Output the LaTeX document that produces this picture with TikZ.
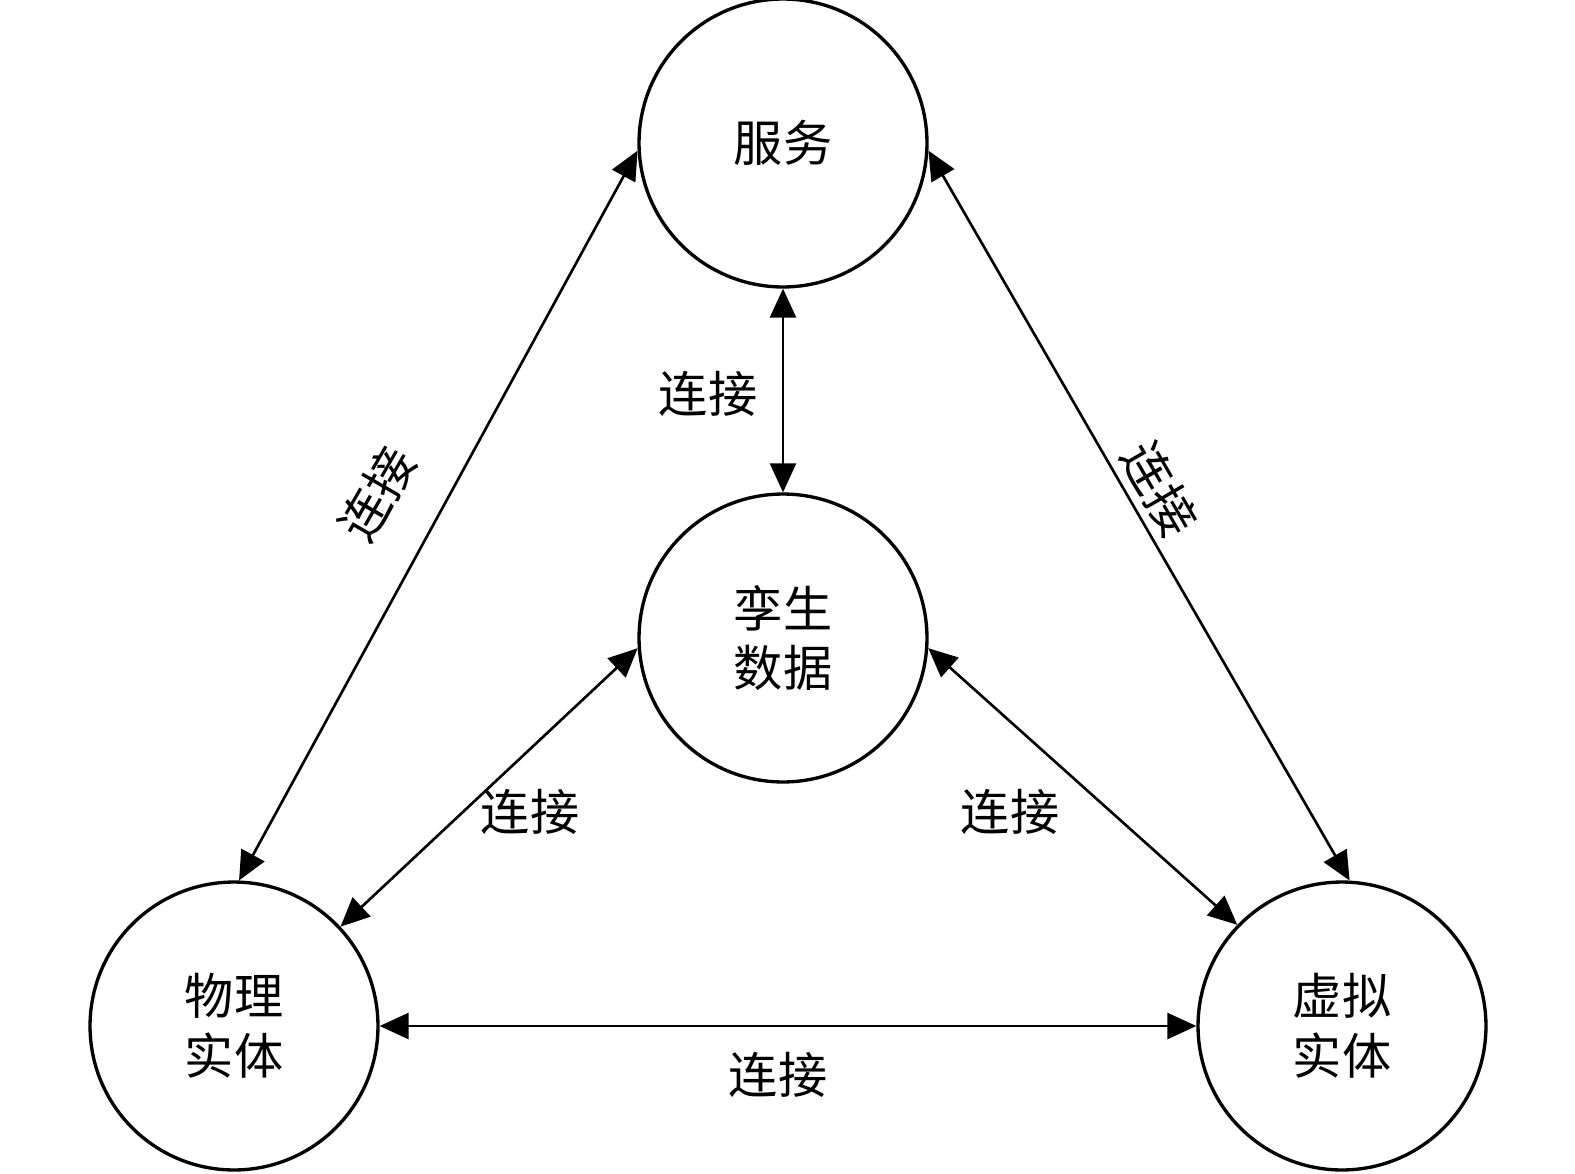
\documentclass[tikz,border=0pt]{standalone}
\usepackage{fontspec}
\usepackage{tikz}
\usetikzlibrary{arrows.meta}
\newfontfamily\cjk{Noto Sans CJK SC}

\begin{document}
\begin{tikzpicture}[x=0.02cm, y=-0.02cm,
    entity/.style={shape=circle, draw=black, line width=1.9pt, minimum size=5.76cm, inner sep=0pt,
        align=center, font=\cjk\fontsize{28}{34}\selectfont},
    link/.style={black, line width=1.5pt, {Triangle[length=0.58cm, width=0.52cm]}-{Triangle[length=0.58cm, width=0.52cm]}},
    tag/.style={font=\cjk\fontsize{28}{34}\selectfont, inner sep=0pt}]
        \useasboundingbox (0, 0) rectangle (1575, 1173);

        \node[entity] (srv) at (783, 143) {服务};
        \node[entity] (twin) at (783, 638) {孪生\\数据};
        \node[entity] (phy) at (234, 1026) {物理\\实体};
        \node[entity] (vir) at (1342, 1026) {虚拟\\实体};

        \draw[link] (srv.183) -- (phy.88);
        \draw[link] (srv.-3) -- (vir.87);
        \draw[link] (srv.south) -- (twin.north);
        \draw[link] (twin.184) -- (phy.43);
        \draw[link] (twin.-4) -- (vir.136);
        \draw[link] (phy.east) -- (vir.west);

        \node[tag] (t1) at (708, 394) {连接};
        \node[tag, rotate=60] (t2) at (377, 494) {连接};
        \node[tag, rotate=-60] (t3) at (1160, 489) {连接};
        \node[tag] (t4) at (530, 812) {连接};
        \node[tag] (t5) at (1010, 812) {连接};
        \node[tag] (t6) at (778, 1075) {连接};
\end{tikzpicture}
\end{document}
